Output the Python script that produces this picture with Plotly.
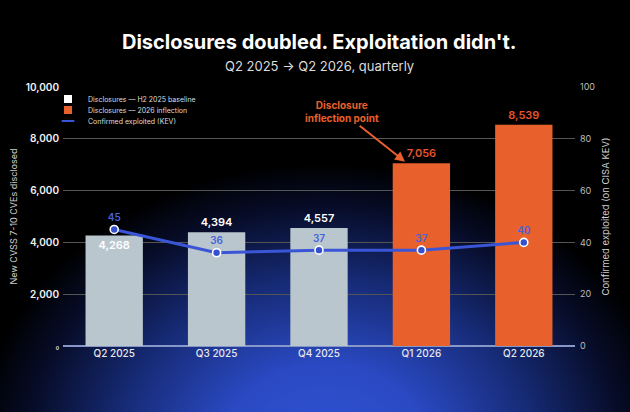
import base64
import plotly.graph_objects as go

# ---- data ----
quarters = ["Q2 2025", "Q3 2025", "Q4 2025", "Q1 2026", "Q2 2026"]
disclosures = [4268, 4394, 4557, 7056, 8539]
baseline_n = 3  # first three quarters are the H2 2025 baseline group
exploited = [45, 36, 37, 37, 40]
left_ticks = [0, 2000, 4000, 6000, 8000, 10000]
right_ticks = [0, 20, 40, 60, 80, 100]
series_names = ["Disclosures — H2 2025 baseline", "Disclosures — 2026 inflection", "Confirmed exploited (KEV)"]

W, H = 630, 412
ML, MR, MT, MB = 63, 55, 87, 66
PW, PH = W - ML - MR, H - MT - MB

GREY = "#b9c6cd"
ORANGE = "#e8602c"
ORANGE_TXT = "#e4532c"
BLUE = "#3a56d6"
FONT = "Inter"

# background glow (svg radial gradient)
svg = (
    f'<svg xmlns="http://www.w3.org/2000/svg" width="{W}" height="{H}" viewBox="0 0 {W} {H}" '
    'preserveAspectRatio="none"><defs><radialGradient id="g" cx="325" cy="450" r="350" '
    'gradientUnits="userSpaceOnUse" gradientTransform="translate(325 450) scale(1 0.82) translate(-325 -450)">'
    '<stop offset="0" stop-color="#3053d6"/><stop offset="0.3" stop-color="#2a49c2"/>'
    '<stop offset="0.6" stop-color="#162a74"/><stop offset="0.84" stop-color="#070d2a"/>'
    '<stop offset="1" stop-color="#000000"/></radialGradient></defs>'
    f'<rect width="{W}" height="{H}" fill="#000"/><rect width="{W}" height="{H}" fill="url(#g)"/></svg>'
)
bg_uri = "data:image/svg+xml;base64," + base64.b64encode(svg.encode()).decode()

fig = go.Figure()

fig.add_trace(go.Bar(
    x=quarters[:baseline_n], y=disclosures[:baseline_n],
    name=series_names[0], showlegend=False,
    marker=dict(color=GREY, line=dict(width=0)),
    text=[f"{v:,}" for v in disclosures[:baseline_n]],
    textposition=["inside", "outside", "outside"],
    insidetextanchor="end",
    textfont=dict(family=FONT, size=11, color="#ffffff", weight=600),
    cliponaxis=False,
))
fig.add_trace(go.Bar(
    x=quarters[baseline_n:], y=disclosures[baseline_n:],
    name=series_names[1], showlegend=False,
    marker=dict(color=ORANGE, line=dict(width=0)),
    text=[f"{v:,}" for v in disclosures[baseline_n:]],
    textposition="outside",
    textfont=dict(family=FONT, size=11, color=ORANGE_TXT, weight=600),
    cliponaxis=False,
))
fig.add_trace(go.Scatter(
    x=quarters, y=exploited, yaxis="y2",
    name=series_names[2], showlegend=False,
    mode="lines+markers+text",
    line=dict(color=BLUE, width=3),
    marker=dict(size=8, color="#3450cf", line=dict(color="#ffffff", width=1.6)),
    text=[str(v) for v in exploited],
    textposition="top center",
    textfont=dict(family=FONT, size=10, color="#4862dc", weight=600),
    cliponaxis=False,
))

# legend keys (compact, one legend per entry so they can sit tightly)
legend_keys = [
    dict(symbol="square", size=8, color="#ffffff", line=dict(width=0)),
    dict(symbol="square", size=8, color=ORANGE, line=dict(width=0)),
    dict(symbol="line-ew-open", size=9, color=BLUE, line=dict(width=2, color=BLUE)),
]
for i, (nm, mk) in enumerate(zip(series_names, legend_keys)):
    fig.add_trace(go.Scatter(
        x=[None], y=[None], mode="markers", name=nm, marker=mk,
        showlegend=True, legend="legend" if i == 0 else f"legend{i + 1}",
        hoverinfo="skip",
    ))


def leg(py):
    return dict(
        x=(48 - ML) / PW, y=(MT + PH - py) / PH,
        xanchor="left", yanchor="middle",
        bgcolor="rgba(0,0,0,0)", font=dict(family=FONT, size=7, color="#dddddd"),
        itemwidth=30, tracegroupgap=0,
    )


fig.update_layout(
    width=W, height=H,
    margin=dict(l=ML, r=MR, t=MT, b=MB),
    paper_bgcolor="#000000",
    plot_bgcolor="rgba(0,0,0,0)",
    font=dict(family=FONT, color="#e6e6e6"),
    barmode="overlay",
    bargap=0.44,
    showlegend=True,
    legend=leg(99),
    legend2=leg(110),
    legend3=leg(121),
    xaxis=dict(
        type="category", categoryorder="array", categoryarray=quarters,
        showgrid=False, showline=False, zeroline=False,
        ticks="", tickfont=dict(family=FONT, size=10, color="#e8e8e8", weight=500),
    ),
    yaxis=dict(
        range=[0, 10000],
        tickvals=left_ticks,
        ticktext=["<span style='font-size:5px'>0</span>"] + [f"{v:,}" for v in left_ticks[1:]],
        tickfont=dict(family=FONT, size=10, color="#f2f2f2", weight=600),
        showgrid=True, gridcolor="#555555", gridwidth=1,
        zeroline=True, zerolinecolor="#8797c8", zerolinewidth=1.5,
        ticks="", ticklabelstandoff=3,
        title=dict(text="New CVSS 7-10 CVEs disclosed", font=dict(family=FONT, size=9, color="#cfcfcf"), standoff=6),
    ),
    yaxis2=dict(
        overlaying="y", side="right", range=[0, 100],
        tickvals=right_ticks,
        tickfont=dict(family=FONT, size=9, color="#bdbdbd"),
        showgrid=False, zeroline=False, ticks="", ticklabelstandoff=4,
        title=dict(text="Confirmed exploited (on CISA KEV)", font=dict(family=FONT, size=9.5, color="#cfcfcf"), standoff=8),
    ),
    images=[dict(
        source=bg_uri, xref="paper", yref="paper",
        x=-ML / PW, y=1 + MT / PH, sizex=W / PW, sizey=H / PH,
        xanchor="left", yanchor="top", sizing="stretch", layer="below",
    )],
)

# title & subtitle
fig.add_annotation(
    text="<b>Disclosures doubled. Exploitation didn't.</b>",
    xref="paper", yref="paper", x=0.5, y=1 + (MT - 42) / PH,
    xanchor="center", yanchor="middle", showarrow=False,
    font=dict(family=FONT, size=20, color="#ffffff"),
)
fig.add_annotation(
    text="Q2 2025 → Q2 2026, quarterly",
    xref="paper", yref="paper", x=0.5, y=1 + (MT - 66) / PH,
    xanchor="center", yanchor="middle", showarrow=False,
    font=dict(family=FONT, size=13, color="#dcdcdc"),
)

# inflection callout
fig.add_annotation(
    text="<b>Disclosure<br>inflection point</b>",
    x=2.84, y=disclosures[3] + 60, xref="x", yref="y",
    ax=-63, ay=-50, showarrow=True,
    arrowhead=2, arrowsize=1, arrowwidth=2, arrowcolor=ORANGE,
    font=dict(family=FONT, size=10, color=ORANGE),
    align="center",
)

fig.write_html(
    "out.html",
    config={"displayModeBar": False},
    post_script="document.body.style.margin='0';document.body.style.background='#000';",
)
